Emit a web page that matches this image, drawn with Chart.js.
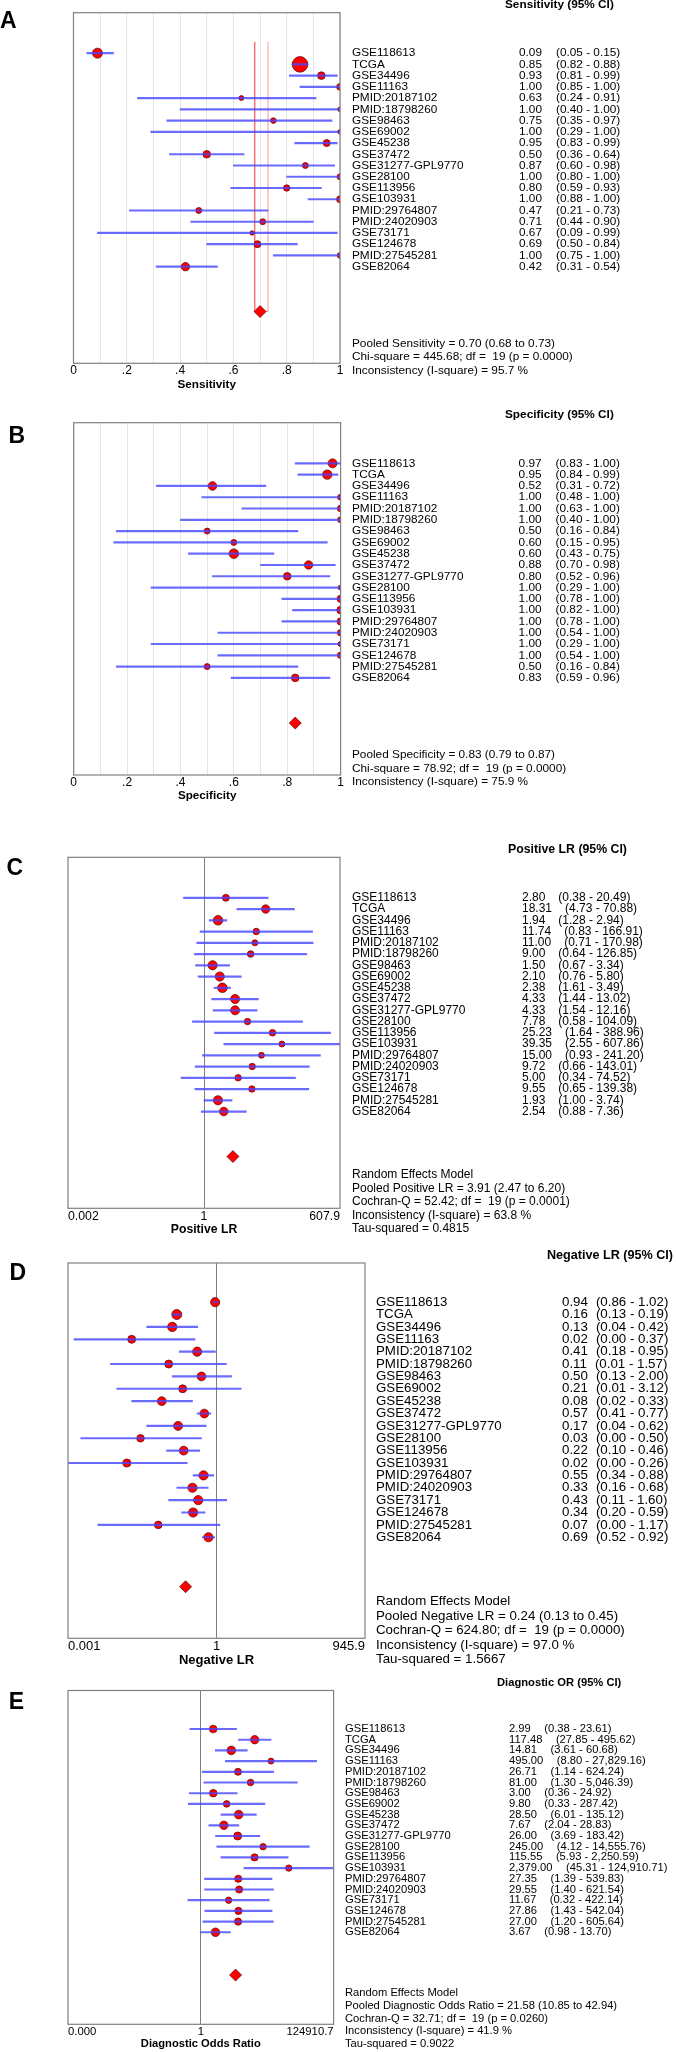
<!DOCTYPE html>
<html>
<head>
<meta charset="utf-8">
<title>Forest plots</title>
<script src="https://cdn.jsdelivr.net/npm/chart.js@4.4.1/dist/chart.umd.min.js"></script>
<style>
  body { margin: 0; background: #fff; }
  #page { position: relative; width: 676px; height: 2052px; background: #fff; overflow: hidden; }
  #page canvas { position: absolute; left: 0; }
</style>
</head>
<body>
<div id="page">
  <canvas id="panelA" width="676" height="400" style="top:0px"></canvas>
  <canvas id="panelB" width="676" height="430" style="top:405px"></canvas>
  <canvas id="panelC" width="676" height="405" style="top:835px"></canvas>
  <canvas id="panelD" width="676" height="430" style="top:1240px"></canvas>
  <canvas id="panelE" width="676" height="382" style="top:1670px"></canvas>
</div>
<script>
const studies = ['GSE118613', 'TCGA', 'GSE34496', 'GSE11163', 'PMID:20187102', 'PMID:18798260',
  'GSE98463', 'GSE69002', 'GSE45238', 'GSE37472', 'GSE31277-GPL9770', 'GSE28100', 'GSE113956',
  'GSE103931', 'PMID:29764807', 'PMID:24020903', 'GSE73171', 'GSE124678', 'PMID:27545281', 'GSE82064'];

// sensitivity
const sensEst = [0.09, 0.85, 0.93, 1.00, 0.63, 1.00, 0.75, 1.00, 0.95, 0.50, 0.87, 1.00, 0.80, 1.00, 0.47, 0.71, 0.67, 0.69, 1.00, 0.42];
const sensLo = [0.05, 0.82, 0.81, 0.85, 0.24, 0.40, 0.35, 0.29, 0.83, 0.36, 0.60, 0.80, 0.59, 0.88, 0.21, 0.44, 0.09, 0.50, 0.75, 0.31];
const sensHi = [0.15, 0.88, 0.99, 1.00, 0.91, 1.00, 0.97, 1.00, 0.99, 0.64, 0.98, 1.00, 0.93, 1.00, 0.73, 0.90, 0.99, 0.84, 1.00, 0.54];
const sensWt = [5, 7.8, 3.8, 3.4, 2.5, 2.3, 2.8, 2.3, 3.5, 3.8, 3, 3, 3.2, 3.5, 3, 3, 2.2, 3.5, 2.8, 4.2];
const sensPooled = [0.70, 0.68, 0.73];
const sensHet = [445.68, 19, 0.0000, 95.7];
const sensTicks = ['0', '.2', '.4', '.6', '.8', '1'];

// specificity
const specEst = [0.97, 0.95, 0.52, 1.00, 1.00, 1.00, 0.50, 0.60, 0.60, 0.88, 0.80, 1.00, 1.00, 1.00, 1.00, 1.00, 1.00, 1.00, 0.50, 0.83];
const specLo = [0.83, 0.84, 0.31, 0.48, 0.63, 0.40, 0.16, 0.15, 0.43, 0.70, 0.52, 0.29, 0.78, 0.82, 0.78, 0.54, 0.29, 0.54, 0.16, 0.59];
const specHi = [1.00, 0.99, 0.72, 1.00, 1.00, 1.00, 0.84, 0.95, 0.75, 0.98, 0.96, 1.00, 1.00, 1.00, 1.00, 1.00, 1.00, 1.00, 0.84, 0.96];
const specWt = [4.5, 4.7, 4.3, 3, 3.3, 3, 3, 3, 4.8, 4.2, 3.8, 2.5, 3.6, 3.8, 3.6, 3.2, 2.6, 3.2, 3, 3.8];
const specPooled = [0.83, 0.79, 0.87];
const specHet = [78.92, 19, 0.0000, 75.9];
const specTicks = ['0', '.2', '.4', '.6', '.8', '1'];

// positive LR
const plrEst = [2.80, 18.31, 1.94, 11.74, 11.00, 9.00, 1.50, 2.10, 2.38, 4.33, 4.33, 7.78, 25.23, 39.35, 15.00, 9.72, 5.00, 9.55, 1.93, 2.54];
const plrLo = [0.38, 4.73, 1.28, 0.83, 0.71, 0.64, 0.67, 0.76, 1.61, 1.44, 1.54, 0.58, 1.64, 2.55, 0.93, 0.66, 0.34, 0.65, 1.00, 0.88];
const plrHi = [20.49, 70.88, 2.94, 166.91, 170.98, 126.85, 3.34, 5.80, 3.49, 13.02, 12.16, 104.09, 388.96, 607.86, 241.20, 143.01, 74.52, 139.38, 3.74, 7.36];
const plrWt = [3.5, 4.2, 4.8, 3.3, 3, 3.3, 4.6, 4.6, 4.8, 4.5, 4.5, 3.2, 3.3, 3, 3, 3.2, 3.2, 3.2, 4.6, 4.3];
const plrPooled = [3.91, 2.47, 6.20];
const plrHet = [52.42, 19, 0.0001, 63.8, 0.4815];
const plrMax = 607.9;
const plrTicks = ['0.002', '1', '607.9'];

// negative LR
const nlrEst = [0.94, 0.16, 0.13, 0.02, 0.41, 0.11, 0.50, 0.21, 0.08, 0.57, 0.17, 0.03, 0.22, 0.016, 0.55, 0.33, 0.43, 0.34, 0.068, 0.69];
const nlrLo = [0.86, 0.13, 0.04, 0.0014, 0.18, 0.0075, 0.13, 0.01, 0.02, 0.41, 0.04, 0.0019, 0.10, 0.0008, 0.34, 0.16, 0.11, 0.20, 0.0042, 0.52];
const nlrHi = [1.02, 0.19, 0.42, 0.37, 0.95, 1.57, 2.00, 3.12, 0.33, 0.77, 0.62, 0.50, 0.46, 0.26, 0.88, 0.68, 1.60, 0.59, 1.17, 0.92];
const nlrWt = [4.6, 5, 4.7, 4, 4.6, 4, 4.4, 4, 4.4, 4.4, 4.5, 3.8, 4.4, 4, 4.6, 4.6, 4.6, 4.6, 3.8, 4.6];
const nlrPooled = [0.24, 0.13, 0.45];
const nlrHet = [624.80, 19, 0.0000, 97.0, 1.5667];
const nlrMax = 945.9;
const nlrTicks = ['0.001', '1', '945.9'];

// diagnostic odds ratio
const dorEst = [2.99, 117.48, 14.81, 495.00, 26.71, 81.00, 3.00, 9.80, 28.50, 7.67, 26.00, 245.00, 115.55, 2379.00, 27.35, 29.55, 11.67, 27.86, 27.00, 3.67];
const dorLo = [0.38, 27.85, 3.61, 8.80, 1.14, 1.30, 0.36, 0.33, 6.01, 2.04, 3.69, 4.12, 5.93, 45.31, 1.39, 1.40, 0.32, 1.43, 1.20, 0.98];
const dorHi = [23.61, 495.62, 60.68, 27829.16, 624.24, 5046.39, 24.92, 287.42, 135.12, 28.83, 183.42, 14555.76, 2250.59, 124910.71, 539.83, 621.54, 422.14, 542.04, 605.64, 13.70];
const dorWt = [3.8, 4.2, 4.3, 3, 3.5, 3.3, 3.8, 3.3, 4.3, 4.2, 4, 3.2, 3.6, 3.2, 3.6, 3.6, 3.2, 3.6, 3.6, 4.3];
const dorPooled = [21.58, 10.85, 42.94];
const dorHet = [32.71, 19, 0.0260, 41.9, 0.9022];
const dorMax = 124910.7;
const dorTicks = ['0.000', '1', '124910.7'];

const FONT = '"Liberation Sans", Arial, sans-serif';
Chart.defaults.font.family = FONT;
Chart.defaults.color = '#000';

const f2 = v => v.toLocaleString('en-US', { minimumFractionDigits: 2, maximumFractionDigits: 2 });

function fixedStats(name, pooled, het) {
  return [
    `Pooled ${name} = ${f2(pooled[0])} (${f2(pooled[1])} to ${f2(pooled[2])})`,
    `Chi-square = ${f2(het[0])}; df =  ${het[1]} (p = ${het[2].toFixed(4)})`,
    `Inconsistency (I-square) = ${het[3].toFixed(1)} %`
  ];
}

function randomStats(name, pooled, het) {
  return [
    'Random Effects Model',
    `Pooled ${name} = ${f2(pooled[0])} (${f2(pooled[1])} to ${f2(pooled[2])})`,
    `Cochran-Q = ${f2(het[0])}; df =  ${het[1]} (p = ${het[2].toFixed(4)})`,
    `Inconsistency (I-square) = ${het[3].toFixed(1)} %`,
    `Tau-squared = ${het[4].toFixed(4)}`
  ];
}

// text column, header, panel letter and box, placed on the chart's own y scale
function drawTable(chart, p) {
  const ctx = chart.ctx;
  const area = chart.chartArea;
  const ys = chart.scales.y;
  ctx.save();
  ctx.strokeStyle = '#808080';
  ctx.lineWidth = 1.2;
  ctx.strokeRect(area.left, area.top, area.right - area.left, area.bottom - area.top);

  ctx.fillStyle = '#000';
  ctx.textBaseline = 'middle';
  ctx.textAlign = 'left';
  ctx.font = `bold 23px ${FONT}`;
  ctx.fillText(p.letter, p.letterX, p.letterY);

  ctx.font = `bold ${p.headerSize || p.font}px ${FONT}`;
  ctx.fillText(p.header, p.headerX, area.top - 7.5);

  ctx.font = `${p.font}px ${FONT}`;
  studies.forEach((name, i) => {
    const y = ys.getPixelForValue(i);
    ctx.fillText(name, p.labelX, y);
    const v = f2(p.est[i]);
    ctx.fillText(v, p.valueX, y);
    const w = ctx.measureText(v).width;
    ctx.fillText(`(${f2(p.lo[i])} - ${f2(p.hi[i])})`, p.valueX + w + p.gap, y);
  });

  const incons = p.stats.findIndex(t => t.startsWith('Inconsistency'));
  p.stats.forEach((t, k) => {
    ctx.fillText(t, p.labelX, area.bottom + 7 + (k - incons) * p.statsGap);
  });
  ctx.restore();
}

function forestPlot(p) {
  const canvas = document.getElementById(p.id);
  const [L, R, T, B] = p.box;
  const xh = p.titleY + p.titleSize * 0.6 - B;
  const isLog = p.max > 1;
  const xmin = isLog ? 1 / p.max : 0;
  const xmax = isLog ? p.max : 1;

  const datasets = [
    {
      type: 'bar',
      indexAxis: 'y',
      data: p.est.map((v, i) => ({ y: i, x: [p.lo[i], p.hi[i]] })),
      backgroundColor: 'rgba(70, 70, 255, 0.8)',
      borderWidth: 0,
      barThickness: 1.5,
      order: 0
    },
    {
      type: 'scatter',
      data: p.est.map((v, i) => ({ x: v, y: i })),
      pointRadius: p.wt,
      pointHoverRadius: p.wt,
      pointBackgroundColor: '#ff0000',
      pointBorderColor: '#5a0000',
      pointBorderWidth: 0.7,
      order: 1
    },
    {
      type: 'scatter',
      data: [{ x: p.pooled[0], y: 23 }],
      pointStyle: 'rectRot',
      pointRadius: 6,
      pointHoverRadius: 6,
      pointBackgroundColor: '#ff0000',
      pointBorderColor: '#5a0000',
      pointBorderWidth: 0.7,
      order: 1
    }
  ];
  if (p.pooledLines) {
    // pooled CI bracket: down from the top to the diamond row
    datasets.push({
      type: 'scatter',
      showLine: true,
      data: [{ x: p.pooled[1], y: -1 }, { x: p.pooled[1], y: 23 }, { x: p.pooled[2], y: 23 }, { x: p.pooled[2], y: -1 }],
      borderColor: 'rgba(255, 80, 80, 0.75)',
      borderWidth: 0.8,
      pointRadius: 0,
      order: 2
    });
  }

  new Chart(canvas, {
    type: 'scatter',
    data: { datasets },
    options: {
      responsive: false,
      animation: false,
      events: [],
      layout: { padding: { left: L, right: canvas.width - R, top: T, bottom: canvas.height - B - xh } },
      plugins: { legend: { display: false }, tooltip: { enabled: false } },
      scales: {
        x: {
          type: isLog ? 'logarithmic' : 'linear',
          min: xmin,
          max: xmax,
          afterFit: s => { s.height = xh; },
          afterBuildTicks: s => {
            if (isLog) s.ticks = [xmin, 1, xmax].map(value => ({ value }));
          },
          ticks: {
            stepSize: isLog ? undefined : 0.1,
            autoSkip: false,
            maxRotation: 0,
            minRotation: 0,
            padding: 0.5,
            align: isLog ? 'inner' : 'center',
            color: '#000',
            font: { size: p.tickSize },
            callback: (v, i) => isLog ? p.ticks[i] : (i % 2 === 0 ? p.ticks[i / 2] : '')
          },
          grid: {
            drawTicks: false,
            lineWidth: 1,
            color: c => {
              if (!c.tick) return 'rgba(0,0,0,0)';
              if (isLog) return Math.abs(c.tick.value - 1) < 1e-9 ? '#7f7f7f' : 'rgba(0,0,0,0)';
              return '#e6e6e6';
            }
          },
          border: { display: false },
          title: {
            display: true,
            text: p.axisTitle,
            color: '#000',
            padding: 0,
            font: { size: p.titleSize, weight: 'bold' }
          }
        },
        y: { type: 'linear', min: -1, max: 25, reverse: true, display: false }
      }
    },
    plugins: [{ id: 'forestTable', afterDraw: chart => drawTable(chart, p) }]
  });
}

forestPlot({
  id: 'panelA', letter: 'A', letterX: 0, letterY: 21.5,
  box: [73.5, 340, 12.7, 363.3], titleY: 385,
  header: 'Sensitivity (95% CI)', headerX: 505,
  labelX: 352, valueX: 519, gap: 14,
  font: 11.8, tickSize: 12, titleSize: 11.7, statsGap: 13.4,
  axisTitle: 'Sensitivity', max: 1, ticks: sensTicks,
  est: sensEst, lo: sensLo, hi: sensHi, wt: sensWt, pooled: sensPooled, pooledLines: true,
  stats: fixedStats('Sensitivity', sensPooled, sensHet)
});

forestPlot({
  id: 'panelB', letter: 'B', letterX: 8.5, letterY: 31.5,
  box: [73.7, 340.6, 17.7, 370], titleY: 391,
  header: 'Specificity (95% CI)', headerX: 505,
  labelX: 352, valueX: 518.6, gap: 14,
  font: 11.8, tickSize: 12, titleSize: 11.7, statsGap: 13.4,
  axisTitle: 'Specificity', max: 1, ticks: specTicks,
  est: specEst, lo: specLo, hi: specHi, wt: specWt, pooled: specPooled, pooledLines: false,
  stats: fixedStats('Specificity', specPooled, specHet)
});

forestPlot({
  id: 'panelC', letter: 'C', letterX: 6.5, letterY: 33.3,
  box: [68, 340, 22.3, 373.3], titleY: 395,
  header: 'Positive LR (95% CI)', headerX: 508, headerSize: 12.3,
  labelX: 352, valueX: 522, gap: 13,
  font: 12, tickSize: 12.3, titleSize: 12.2, statsGap: 13.5,
  axisTitle: 'Positive LR', max: plrMax, ticks: plrTicks,
  est: plrEst, lo: plrLo, hi: plrHi, wt: plrWt, pooled: plrPooled, pooledLines: false,
  stats: randomStats('Positive LR', plrPooled, plrHet)
});

forestPlot({
  id: 'panelD', letter: 'D', letterX: 9.5, letterY: 33.3,
  box: [68, 365, 23, 398.3], titleY: 420.7,
  header: 'Negative LR (95% CI)', headerX: 547, headerSize: 12.6,
  labelX: 376, valueX: 562, gap: 8,
  font: 13.3, tickSize: 13, titleSize: 13, statsGap: 14.5,
  axisTitle: 'Negative LR', max: nlrMax, ticks: nlrTicks,
  est: nlrEst, lo: nlrLo, hi: nlrHi, wt: nlrWt, pooled: nlrPooled, pooledLines: false,
  stats: randomStats('Negative LR', nlrPooled, nlrHet)
});

forestPlot({
  id: 'panelE', letter: 'E', letterX: 8.7, letterY: 32.3,
  box: [68, 333.6, 20.5, 354.3], titleY: 374,
  header: 'Diagnostic OR (95% CI)', headerX: 497,
  labelX: 345, valueX: 509, gap: 13.5,
  font: 11.2, tickSize: 11.3, titleSize: 11.2, statsGap: 12.7,
  axisTitle: 'Diagnostic Odds Ratio', max: dorMax, ticks: dorTicks,
  est: dorEst, lo: dorLo, hi: dorHi, wt: dorWt, pooled: dorPooled, pooledLines: false,
  stats: randomStats('Diagnostic Odds Ratio', dorPooled, dorHet)
});
</script>
</body>
</html>
